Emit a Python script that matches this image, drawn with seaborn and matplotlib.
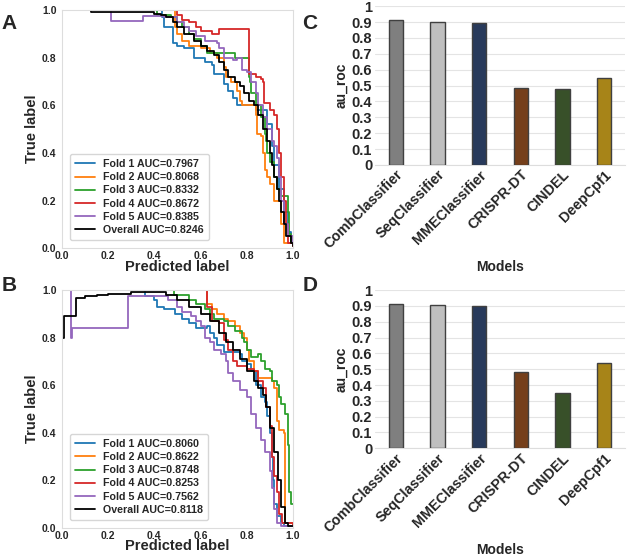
import numpy as np
import pandas as pd
import matplotlib
matplotlib.use("Agg")
import matplotlib.pyplot as plt
import seaborn as sns

sns.set_style("white")
plt.rcParams['font.family'] = ['Liberation Sans', 'DejaVu Sans']
plt.rcParams['font.weight'] = 'bold'

# -------- Datos: curvas panel A --------
a_fold1_x = [0, 0.43, 0.435, 0.44, 0.48, 0.50, 0.53, 0.57, 0.62, 0.65, 0.66, 0.70, 0.72, 0.74, 0.76, 0.82, 0.84, 0.89, 0.90, 0.91, 0.92, 0.94, 0.96, 0.98, 0.99, 1.0]
a_fold1_y = [1, 1, 0.97, 0.93, 0.86, 0.85, 0.84, 0.80, 0.78, 0.77, 0.73, 0.69, 0.66, 0.63, 0.60, 0.60, 0.58, 0.52, 0.52, 0.43, 0.35, 0.25, 0.15, 0.07, 0.02, 0.01]
a_fold2_x = [0, 0.48, 0.49, 0.50, 0.52, 0.55, 0.60, 0.64, 0.67, 0.70, 0.71, 0.73, 0.76, 0.77, 0.78, 0.82, 0.84, 0.845, 0.86, 0.87, 0.88, 0.89, 0.90, 0.92, 0.94, 0.95, 0.96, 0.99, 1.0]
a_fold2_y = [1, 1, 0.93, 0.90, 0.87, 0.85, 0.84, 0.82, 0.80, 0.76, 0.72, 0.70, 0.66, 0.62, 0.60, 0.60, 0.56, 0.48, 0.47, 0.40, 0.33, 0.30, 0.27, 0.20, 0.20, 0.10, 0.02, 0.02, 0.01]
a_fold3_x = [0, 0.41, 0.47, 0.50, 0.52, 0.55, 0.57, 0.60, 0.63, 0.69, 0.75, 0.81, 0.815, 0.82, 0.84, 0.86, 0.88, 0.885, 0.89, 0.90, 0.92, 0.93, 0.95, 0.96, 0.98, 0.985, 0.99, 1.0]
a_fold3_y = [1, 0.98, 0.97, 0.95, 0.93, 0.90, 0.88, 0.85, 0.82, 0.82, 0.80, 0.72, 0.70, 0.65, 0.60, 0.55, 0.48, 0.45, 0.40, 0.36, 0.30, 0.25, 0.22, 0.22, 0.15, 0.06, 0.02, 0.02]
a_fold4_x = [0, 0.48, 0.50, 0.52, 0.55, 0.58, 0.60, 0.65, 0.68, 0.81, 0.84, 0.86, 0.87, 0.875, 0.90, 0.92, 0.93, 0.94, 0.95, 0.96, 0.97, 0.98, 1.0]
a_fold4_y = [1, 1, 0.98, 0.96, 0.95, 0.93, 0.91, 0.90, 0.92, 0.73, 0.72, 0.71, 0.70, 0.61, 0.58, 0.56, 0.50, 0.40, 0.30, 0.20, 0.10, 0.02, 0.01]
a_fold5_x = [0, 0.21, 0.35, 0.44, 0.50, 0.53, 0.55, 0.58, 0.62, 0.67, 0.68, 0.70, 0.74, 0.76, 0.78, 0.80, 0.82, 0.84, 0.85, 0.87, 0.89, 0.91, 0.92, 0.93, 0.94, 0.95, 0.96, 0.98, 1.0]
a_fold5_y = [1, 0.955, 0.975, 0.97, 0.95, 0.93, 0.91, 0.89, 0.87, 0.86, 0.84, 0.80, 0.79, 0.80, 0.75, 0.74, 0.70, 0.65, 0.60, 0.55, 0.50, 0.45, 0.43, 0.38, 0.30, 0.20, 0.10, 0.05, 0.02]
a_total_x = [0, 0.12, 0.125, 0.30, 0.40, 0.43, 0.45, 0.48, 0.50, 0.53, 0.57, 0.60, 0.63, 0.66, 0.68, 0.70, 0.72, 0.75, 0.77, 0.79, 0.81, 0.83, 0.85, 0.87, 0.89, 0.90, 0.91, 0.92, 0.93, 0.94, 0.95, 0.96, 0.97, 0.99, 1.0]
a_total_y = [1, 1, 0.99, 0.99, 0.985, 0.98, 0.97, 0.95, 0.93, 0.90, 0.87, 0.85, 0.83, 0.81, 0.78, 0.75, 0.72, 0.70, 0.68, 0.65, 0.62, 0.60, 0.56, 0.50, 0.45, 0.40, 0.35, 0.30, 0.25, 0.20, 0.15, 0.10, 0.05, 0.02, 0.01]
a_auc = ["0.7967", "0.8068", "0.8332", "0.8672", "0.8385", "0.8246"]

# -------- Datos: curvas panel B --------
b_fold1_x = [0, 0.35, 0.36, 0.40, 0.41, 0.44, 0.49, 0.52, 0.55, 0.58, 0.63, 0.64, 0.66, 0.67, 0.70, 0.77, 0.78, 0.80, 0.82, 0.84, 0.86, 0.88, 0.89, 0.90, 0.91, 0.915, 0.92, 0.93, 0.95, 0.96, 1.0]
b_fold1_y = [1, 1, 0.975, 0.96, 0.93, 0.92, 0.90, 0.88, 0.86, 0.84, 0.85, 0.82, 0.80, 0.77, 0.74, 0.73, 0.70, 0.69, 0.66, 0.60, 0.55, 0.53, 0.47, 0.40, 0.30, 0.20, 0.10, 0.05, 0.02, 0.01, 0.01]
b_fold2_x = [0, 0.62, 0.63, 0.65, 0.67, 0.70, 0.72, 0.75, 0.77, 0.79, 0.80, 0.81, 0.83, 0.85, 0.91, 0.92, 0.93, 0.94, 0.96, 0.965, 1.0]
b_fold2_y = [1, 1, 0.94, 0.92, 0.90, 0.88, 0.87, 0.85, 0.82, 0.80, 0.75, 0.70, 0.66, 0.63, 0.62, 0.59, 0.45, 0.41, 0.40, 0.02, 0.01]
b_fold3_x = [0, 0.48, 0.485, 0.55, 0.58, 0.62, 0.64, 0.66, 0.70, 0.72, 0.75, 0.78, 0.79, 0.80, 0.82, 0.85, 0.86, 0.88, 0.90, 0.91, 0.93, 0.94, 0.95, 0.965, 0.98, 0.985, 0.99, 1.0]
b_fold3_y = [1, 1, 0.98, 0.96, 0.94, 0.92, 0.90, 0.88, 0.87, 0.85, 0.83, 0.80, 0.78, 0.75, 0.72, 0.73, 0.70, 0.67, 0.66, 0.62, 0.60, 0.55, 0.52, 0.48, 0.35, 0.15, 0.10, 0.10]
b_fold4_x = [0, 0.62, 0.63, 0.65, 0.68, 0.70, 0.72, 0.74, 0.76, 0.80, 0.83, 0.85, 0.87, 0.885, 0.90, 0.91, 0.92, 0.93, 0.94, 0.955, 1.0]
b_fold4_y = [1, 1, 0.93, 0.87, 0.86, 0.79, 0.75, 0.70, 0.68, 0.67, 0.66, 0.62, 0.59, 0.51, 0.43, 0.30, 0.22, 0.15, 0.06, 0.02, 0.01]
b_fold5_x = [0, 0.04, 0.04, 0.045, 0.285, 0.44, 0.46, 0.50, 0.52, 0.56, 0.58, 0.60, 0.62, 0.64, 0.66, 0.69, 0.71, 0.72, 0.74, 0.77, 0.80, 0.82, 0.84, 0.86, 0.88, 0.90, 0.91, 0.92, 0.93, 0.95, 1.0]
b_fold5_y = [1, 1, 0.80, 0.84, 0.975, 0.975, 0.96, 0.93, 0.91, 0.89, 0.87, 0.85, 0.80, 0.78, 0.75, 0.73, 0.70, 0.65, 0.62, 0.58, 0.55, 0.48, 0.42, 0.37, 0.32, 0.24, 0.17, 0.08, 0.02, 0.01, 0.01]
b_total_x = [0.005, 0.009, 0.06, 0.062, 0.10, 0.15, 0.20, 0.30, 0.40, 0.45, 0.50, 0.55, 0.60, 0.64, 0.68, 0.71, 0.74, 0.77, 0.80, 0.83, 0.85, 0.87, 0.885, 0.90, 0.92, 0.935, 0.95, 0.965, 0.98, 1.0]
b_total_y = [0.80, 0.89, 0.89, 0.965, 0.975, 0.98, 0.985, 0.99, 0.99, 0.98, 0.96, 0.93, 0.90, 0.87, 0.82, 0.78, 0.75, 0.71, 0.66, 0.62, 0.59, 0.56, 0.51, 0.42, 0.32, 0.20, 0.09, 0.02, 0.01, 0.01]
b_auc = ["0.8060", "0.8622", "0.8748", "0.8253", "0.7562", "0.8118"]

# -------- Datos: barras paneles C y D --------
modelos = ["CombClassifier", "SeqClassifier", "MMEClassifier", "CRISPR-DT", "CINDEL", "DeepCpf1"]
auroc_c = [0.915, 0.900, 0.893, 0.483, 0.477, 0.545]
auroc_d = [0.915, 0.905, 0.900, 0.483, 0.350, 0.537]
colores_barras = ["#7f7f7f", "#bfbfbf", "#1f3864", "#843c0c", "#375623", "#bf9000"]

colores_folds = ["#1f77b4", "#ff7f0e", "#2ca02c", "#d62728", "#9467bd", "black"]
nombres = ["Fold 1", "Fold 2", "Fold 3", "Fold 4", "Fold 5", "Overall"]

fig = plt.figure(figsize=(6.27, 5.59), dpi=100)


def panel_curvas(ax, curvas, aucs):
    for (xs, ys), color, nombre, auc in zip(curvas, colores_folds, nombres, aucs):
        sns.lineplot(x=xs, y=ys, ax=ax, sort=False, estimator=None,
                     drawstyle="steps-post", color=color, linewidth=1.3,
                     label=f"{nombre} AUC={auc}")
    ticks = np.arange(0, 1.01, 0.2)
    ax.set_xlim(0, 1)
    ax.set_ylim(0, 1)
    ax.set_xticks(ticks)
    ax.set_yticks(ticks)
    ax.set_xticklabels([f"{v:.1f}" for v in ticks])
    ax.set_yticklabels([f"{v:.1f}" for v in ticks])
    ax.tick_params(axis="x", labelsize=7.5, pad=2, length=0)
    ax.tick_params(axis="y", labelsize=7.5, pad=4, length=0)
    for lab in ax.get_xticklabels() + ax.get_yticklabels():
        lab.set_fontweight("bold")
    ax.set_xlabel("Predicted label", fontsize=10.5, fontweight="bold", labelpad=-1)
    ax.set_ylabel("True label", fontsize=10.5, fontweight="bold", labelpad=2)
    for s in ax.spines.values():
        s.set_color("#dddddd")
    leg = ax.legend(loc="lower left", fontsize=7.7, frameon=True,
                    handlelength=1.9, borderpad=0.5, labelspacing=0.3,
                    handletextpad=0.7, bbox_to_anchor=(0.01, 0.01))
    leg.get_frame().set_edgecolor("#cccccc")
    for t in leg.get_texts():
        t.set_fontweight("bold")


def panel_barras(ax, valores):
    df = pd.DataFrame({"modelo": modelos, "au_roc": valores})
    sns.barplot(data=df, x="modelo", y="au_roc", hue="modelo",
                palette=dict(zip(modelos, colores_barras)), legend=False,
                width=0.34, edgecolor="#404040", linewidth=1, ax=ax, zorder=3)
    ax.set_ylim(0, 1)
    ax.set_xlim(-0.5, 5.5)
    ax.set_yticks(np.arange(0, 1.01, 0.1))
    ax.set_yticklabels(["0", "0.1", "0.2", "0.3", "0.4", "0.5", "0.6", "0.7", "0.8", "0.9", "1"])
    ax.yaxis.grid(True, color="#e4e4e4", linewidth=0.8, zorder=0)
    ax.set_axisbelow(True)
    for s in ["top", "right", "left"]:
        ax.spines[s].set_visible(False)
    ax.spines["bottom"].set_color("#dddddd")
    ax.tick_params(length=0, labelsize=10.5, pad=2)
    plt.setp(ax.get_xticklabels(), rotation=45, ha="right", rotation_mode="anchor",
             fontweight="bold", fontsize=10.3)
    plt.setp(ax.get_yticklabels(), fontweight="bold")
    ax.set_xlabel("Models", fontsize=10, fontweight="bold", labelpad=6)
    ax.set_ylabel("au_roc", fontsize=10, fontweight="bold", labelpad=2)


ax_a = fig.add_axes([0.099, 0.556, 0.368, 0.426])
panel_curvas(ax_a, [(a_fold1_x, a_fold1_y), (a_fold2_x, a_fold2_y), (a_fold3_x, a_fold3_y),
                    (a_fold4_x, a_fold4_y), (a_fold5_x, a_fold5_y), (a_total_x, a_total_y)], a_auc)

ax_b = fig.add_axes([0.099, 0.0555, 0.368, 0.4255])
panel_curvas(ax_b, [(b_fold1_x, b_fold1_y), (b_fold2_x, b_fold2_y), (b_fold3_x, b_fold3_y),
                    (b_fold4_x, b_fold4_y), (b_fold5_x, b_fold5_y), (b_total_x, b_total_y)], b_auc)

ax_c = fig.add_axes([0.598, 0.705, 0.399, 0.284])
panel_barras(ax_c, auroc_c)

ax_d = fig.add_axes([0.598, 0.198, 0.399, 0.283])
panel_barras(ax_d, auroc_d)

# Letras de los paneles
for letra, x, y in [("A", 0.003, 0.958), ("B", 0.003, 0.49), ("C", 0.482, 0.958), ("D", 0.482, 0.49)]:
    fig.text(x, y, letra, fontsize=15, fontweight="bold", va="center")

fig.savefig("out.png", dpi=100)
